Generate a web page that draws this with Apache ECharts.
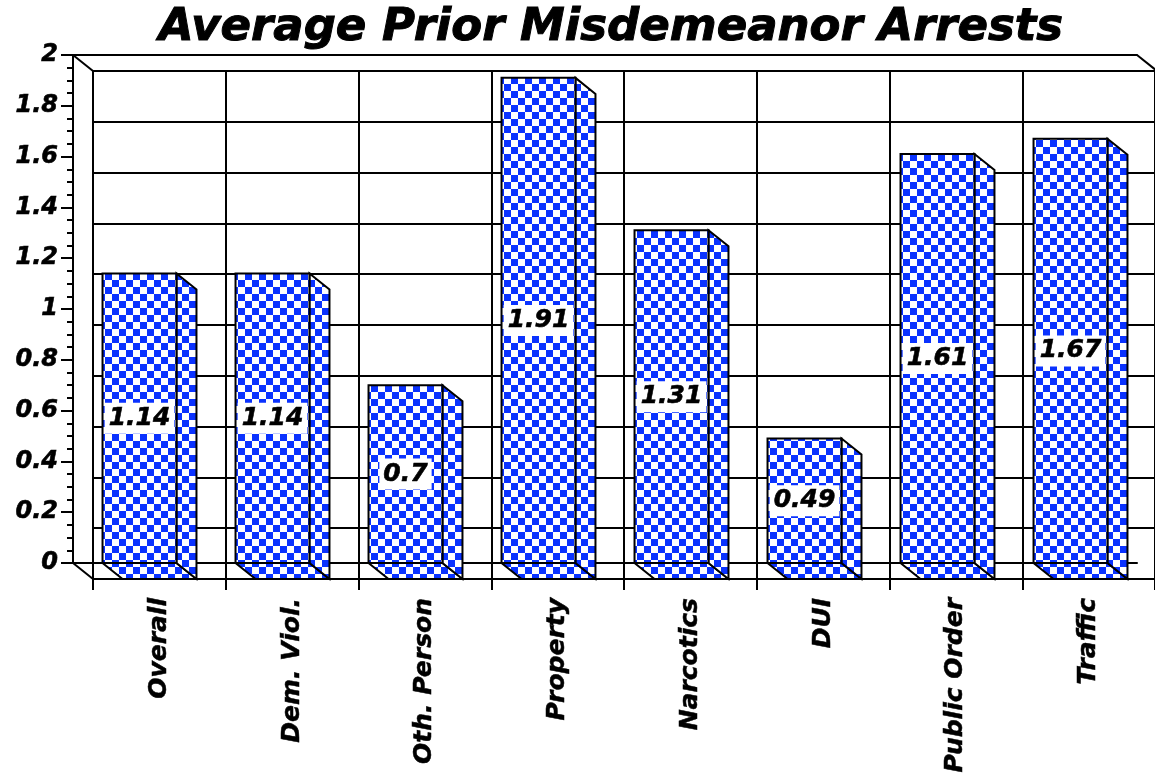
<!DOCTYPE html>
<html>
<head>
<meta charset="utf-8">
<script src="https://cdn.jsdelivr.net/npm/echarts@6/dist/echarts.min.js"></script>
<style>
html,body{margin:0;padding:0;background:#fff;}
#c{width:1155px;height:776px;}
</style>
</head>
<body>
<div id="c"></div>
<script>
const titleText = 'Average Prior Misdemeanor Arrests';
const categories = ['Overall', 'Dem. Viol.', 'Oth. Person', 'Property', 'Narcotics', 'DUI', 'Public Order', 'Traffic'];
const values = [1.14, 1.14, 0.7, 1.91, 1.31, 0.49, 1.61, 1.67];
const yMin = 0, yMax = 2, yStep = 0.2;

const FRONT = { left: 73, top: 55, width: 1064, height: 508 };
const DEPTH = { dx: 20, dy: 16 };
const FONT = 'DejaVu Sans';
const BLUE = '#0a32ff';
const LW = 2;

const pc = document.createElement('canvas');
pc.width = 14; pc.height = 14;
const pctx = pc.getContext('2d');
pctx.fillStyle = '#ffffff'; pctx.fillRect(0, 0, 14, 14);
pctx.fillStyle = BLUE; pctx.fillRect(0, 0, 7, 7); pctx.fillRect(7, 7, 7, 7);
const pattern = { image: pc, repeat: 'repeat' };

const chart = echarts.init(document.getElementById('c'), null, { renderer: 'canvas' });

function renderBar(params, api) {
  const v = api.value(1);
  const top = api.coord([api.value(0), v]);
  const bot = api.coord([api.value(0), 0]);
  const band = api.size([1, 0])[0];
  const w = band * 0.556;
  const x0 = top[0] - w / 2, x1 = top[0] + w / 2, yt = top[1], yb = bot[1];
  const dx = DEPTH.dx, dy = DEPTH.dy;
  const st = { fill: pattern, stroke: '#000', lineWidth: LW };
  return {
    type: 'group',
    children: [
      { type: 'polygon', shape: { points: [[x0, yb], [x1, yb], [x1 + dx, yb + dy], [x0 + dx, yb + dy]] }, style: st },
      { type: 'polygon', shape: { points: [[x1, yt], [x1 + dx, yt + dy], [x1 + dx, yb + dy], [x1, yb]] }, style: st },
      { type: 'rect', shape: { x: x0, y: yt, width: w, height: yb - yt }, style: st },
      { type: 'text', style: { text: String(v), x: top[0], y: (yt + yb) / 2, align: 'center', verticalAlign: 'middle',
          font: 'italic bold 25px "' + FONT + '"', fill: '#000', stroke: '#000', lineWidth: 0.6,
          backgroundColor: '#fff', padding: [4, 4, 2, 4] } }
    ]
  };
}

const L = FRONT.left, T = FRONT.top, W = FRONT.width, H = FRONT.height;
const lineStyle = { stroke: '#000', lineWidth: LW };
const axLine = { show: true, lineStyle: { color: '#000', width: LW } };

const option = {
  animation: false,
  backgroundColor: '#fff',
  title: {
    text: titleText,
    left: 606, top: 1, textAlign: 'center',
    textStyle: { fontFamily: FONT, fontSize: 45, fontWeight: 'bold', fontStyle: 'italic', color: '#000',
      textBorderColor: '#000', textBorderWidth: 1 }
  },
  grid: [
    { left: L, top: T, width: W, height: H, containLabel: false },
    { left: L + DEPTH.dx, top: T + DEPTH.dy, width: W, height: H, containLabel: false }
  ],
  xAxis: [
    { type: 'category', gridIndex: 0, data: categories, position: 'bottom',
      axisLine: axLine, axisTick: { show: false }, axisLabel: { show: false }, splitLine: { show: false } },
    { type: 'category', gridIndex: 0, data: categories, position: 'top',
      axisLine: axLine, axisTick: { show: false }, axisLabel: { show: false }, splitLine: { show: false } },
    { type: 'category', gridIndex: 1, data: categories, position: 'bottom',
      axisLine: axLine,
      axisTick: { show: true, length: 11, lineStyle: { color: '#000', width: LW } },
      axisLabel: { show: true, rotate: 90, margin: 19, fontFamily: FONT, fontSize: 25, fontWeight: 'bold', fontStyle: 'italic', color: '#000', interval: 0,
        textBorderColor: '#000', textBorderWidth: 0.5 },
      splitLine: { show: true, lineStyle: { color: '#000', width: LW } } }
  ],
  yAxis: [
    { type: 'value', gridIndex: 0, min: yMin, max: yMax, interval: yStep,
      axisLine: axLine,
      axisTick: { show: true, length: 12, lineStyle: { color: '#000', width: LW } },
      minorTick: { show: true, splitNumber: 4, length: 6, lineStyle: { color: '#000', width: LW } },
      axisLabel: { margin: 15, fontFamily: FONT, fontSize: 24, fontWeight: 'bold', fontStyle: 'italic', color: '#000',
        textBorderColor: '#000', textBorderWidth: 0.6 },
      splitLine: { show: false } },
    { type: 'value', gridIndex: 1, min: yMin, max: yMax, interval: yStep,
      axisLine: axLine,
      axisTick: { show: false }, axisLabel: { show: false },
      splitLine: { show: true, lineStyle: { color: '#000', width: LW } } }
  ],
  graphic: [
    { type: 'line', shape: { x1: L, y1: T, x2: L + DEPTH.dx, y2: T + DEPTH.dy }, style: lineStyle, z: 10 },
    { type: 'line', shape: { x1: L, y1: T + H, x2: L + DEPTH.dx, y2: T + H + DEPTH.dy }, style: lineStyle, z: 10 },
    { type: 'line', shape: { x1: L + W, y1: T, x2: L + W + DEPTH.dx, y2: T + DEPTH.dy }, style: lineStyle, z: 10 }
  ],
  series: [
    { type: 'custom', xAxisIndex: 0, yAxisIndex: 0, renderItem: renderBar,
      encode: { x: 0, y: 1 }, clip: false,
      data: values.map((v, i) => [i, v]) }
  ]
};
chart.setOption(option);
</script>
</body>
</html>
